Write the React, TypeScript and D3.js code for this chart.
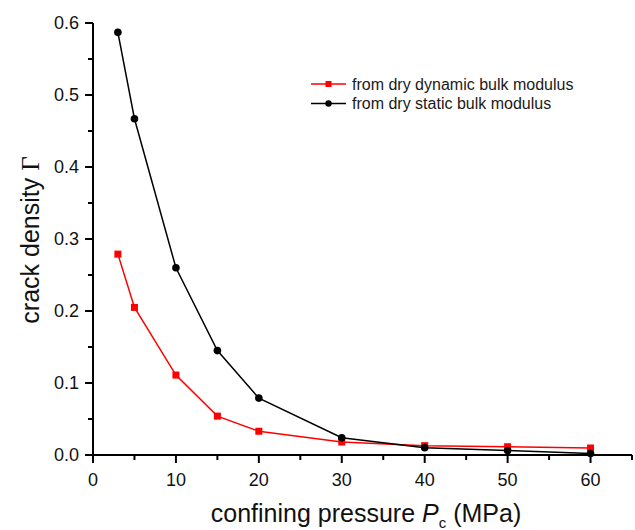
import * as d3 from "d3";

const WIDTH = 635;
const HEIGHT = 530;
const MARGIN = { top: 23, right: 3, bottom: 75, left: 93 };

// confining pressure (MPa)
const pressure = [3, 5, 10, 15, 20, 30, 40, 50, 60];
// crack density from dry dynamic bulk modulus
const dynamicDensity = [0.279, 0.205, 0.111, 0.054, 0.033, 0.018, 0.013, 0.0115, 0.0097];
// crack density from dry static bulk modulus
const staticDensity = [0.587, 0.467, 0.26, 0.145, 0.079, 0.024, 0.010, 0.0062, 0.002];

const xTicks = [0, 10, 20, 30, 40, 50, 60];
const yTicks = [0, 0.1, 0.2, 0.3, 0.4, 0.5, 0.6];

const series = [
  { name: "from dry dynamic bulk modulus", color: "#ff0000", values: dynamicDensity, symbol: "square" },
  { name: "from dry static bulk modulus", color: "#000000", values: staticDensity, symbol: "circle" },
];

const FONT = "'Liberation Sans', Arial, sans-serif";

export default function App() {
  const boundsWidth = WIDTH - MARGIN.left - MARGIN.right;
  const boundsHeight = HEIGHT - MARGIN.top - MARGIN.bottom;

  const xScale = d3.scaleLinear().domain([0, 65]).range([0, boundsWidth]);
  const yScale = d3.scaleLinear().domain([0, 0.6]).range([boundsHeight, 0]);

  const line = d3
    .line<[number, number]>()
    .x((d) => xScale(d[0]))
    .y((d) => yScale(d[1]));

  const xMinor = d3.range(5, 66, 10);
  const yMinor = d3.range(0.05, 0.6, 0.1);

  return (
    <svg width={WIDTH} height={HEIGHT} style={{ position: "absolute", left: 0, top: 0 }}>
      <rect width={WIDTH} height={HEIGHT} fill="white" />
      <g transform={`translate(${MARGIN.left},${MARGIN.top})`}>
        {/* series */}
        {series.map((s) => {
          const pts = pressure.map((p, i) => [p, s.values[i]] as [number, number]);
          return (
            <g key={s.name}>
              <path d={line(pts) ?? ""} fill="none" stroke={s.color} strokeWidth={1.5} />
              {pts.map((d, i) =>
                s.symbol === "square" ? (
                  <rect
                    key={i}
                    x={xScale(d[0]) - 3.5}
                    y={yScale(d[1]) - 3.5}
                    width={7}
                    height={7}
                    fill={s.color}
                  />
                ) : (
                  <circle key={i} cx={xScale(d[0])} cy={yScale(d[1])} r={3.8} fill={s.color} />
                )
              )}
            </g>
          );
        })}

        {/* axes */}
        <line x1={0} x2={0} y1={0} y2={boundsHeight + 1} stroke="black" strokeWidth={2} />
        <line x1={-1} x2={boundsWidth} y1={boundsHeight} y2={boundsHeight} stroke="black" strokeWidth={2} />

        {xTicks.map((t) => (
          <g key={t} transform={`translate(${xScale(t)},${boundsHeight})`}>
            <line y1={0} y2={8} stroke="black" strokeWidth={2} />
            <text y={31} textAnchor="middle" fontSize={18} fontFamily={FONT} fill="#111">
              {t}
            </text>
          </g>
        ))}
        {xMinor.map((t) => (
          <line key={t} x1={xScale(t)} x2={xScale(t)} y1={boundsHeight} y2={boundsHeight + 5} stroke="black" strokeWidth={2} />
        ))}

        {yTicks.map((t) => (
          <g key={t} transform={`translate(0,${yScale(t)})`}>
            <line x1={0} x2={-8} stroke="black" strokeWidth={2} />
            <text x={-14} dy="0.36em" textAnchor="end" fontSize={18} fontFamily={FONT} fill="#111">
              {t.toFixed(1)}
            </text>
          </g>
        ))}
        {yMinor.map((t) => (
          <line key={t} y1={yScale(t)} y2={yScale(t)} x1={0} x2={-5} stroke="black" strokeWidth={2} />
        ))}

        {/* legend */}
        {series.map((s, i) => {
          const y = 61 + i * 19.5;
          return (
            <g key={s.name} transform={`translate(218,${y})`}>
              <line x1={0} x2={35} stroke={s.color} strokeWidth={1.5} />
              {s.symbol === "square" ? (
                <rect x={14.5} y={-3} width={6} height={6} fill={s.color} />
              ) : (
                <circle cx={17.5} cy={0} r={3.2} fill={s.color} />
              )}
              <text x={41} dy="0.35em" fontSize={16} fontFamily={FONT} fill="#1a1a1a">
                {s.name}
              </text>
            </g>
          );
        })}
      </g>

      {/* axis titles */}
      <text
        transform={`translate(39,240) rotate(-90)`}
        textAnchor="middle"
        fontSize={25}
        fontFamily={FONT}
        fill="#111"
      >
        crack density <tspan fontFamily="'Liberation Serif', 'Times New Roman', serif">Γ</tspan>
      </text>
      <text x={366} y={522} textAnchor="middle" fontSize={25} fontFamily={FONT} fill="#111">
        confining pressure <tspan fontStyle="italic">P</tspan>
        <tspan fontSize={15} dy={6}>c</tspan>
        <tspan dy={-6}> (MPa)</tspan>
      </text>
    </svg>
  );
}
